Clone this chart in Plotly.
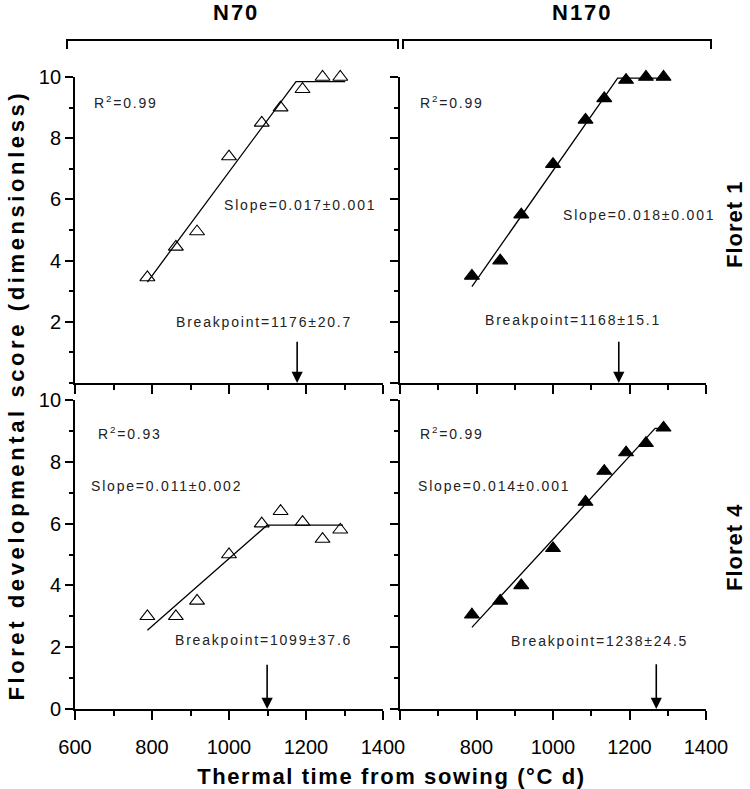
import json
import plotly.graph_objects as go

# ---------------- data ----------------
thermal_time = [788, 862, 917, 1000, 1085, 1134, 1191, 1243, 1289]

n70_floret1 = [3.45, 4.45, 4.95, 7.4, 8.5, 9.0, 9.6, 10.0, 10.0]
n170_floret1 = [3.5, 4.0, 5.5, 7.15, 8.6, 9.3, 9.9, 10.0, 10.0]
n70_floret4 = [3.0, 3.0, 3.5, 5.0, 6.0, 6.4, 6.05, 5.5, 5.8]
n170_floret4 = [3.05, 3.5, 4.0, 5.2, 6.7, 7.7, 8.3, 8.6, 9.1]

# fitted broken-stick lines: start, breakpoint, end
fit_n70_f1_x = [788, 1174, 1302]
fit_n70_f1_y = [3.3, 9.85, 9.85]
fit_n170_f1_x = [788, 1169, 1305]
fit_n170_f1_y = [3.15, 9.96, 9.96]
fit_n70_f4_x = [788, 1099, 1296]
fit_n70_f4_y = [2.55, 5.95, 5.95]
fit_n170_f4_x = [788, 1267, 1297]
fit_n170_f4_y = [2.64, 9.08, 9.08]

arrow_x = [1177, 1172, 1099, 1270]

r2_text = ["R<sup>2</sup>=0.99", "R<sup>2</sup>=0.99", "R<sup>2</sup>=0.93", "R<sup>2</sup>=0.99"]
slope_text = ["Slope=0.017±0.001", "Slope=0.018±0.001", "Slope=0.011±0.002", "Slope=0.014±0.001"]
bp_text = ["Breakpoint=1176±20.7", "Breakpoint=1168±15.1", "Breakpoint=1099±37.6", "Breakpoint=1238±24.5"]

column_labels = ["N70", "N170"]
row_labels = ["Floret 1", "Floret 4"]
x_ticks = [600, 800, 1000, 1200, 1400]
y_ticks = [0, 2, 4, 6, 8, 10]

# ---------------- figure ----------------
W, H = 750, 789
fig = go.Figure()

panels = [
    ("x", "y", n70_floret1, fit_n70_f1_x, fit_n70_f1_y, "triangle-up-open"),
    ("x2", "y2", n170_floret1, fit_n170_f1_x, fit_n170_f1_y, "triangle-up"),
    ("x3", "y3", n70_floret4, fit_n70_f4_x, fit_n70_f4_y, "triangle-up-open"),
    ("x4", "y4", n170_floret4, fit_n170_f4_x, fit_n170_f4_y, "triangle-up"),
]

for xa, ya, vals, fx, fy, sym in panels:
    fig.add_trace(go.Scatter(x=fx, y=fy, xaxis=xa, yaxis=ya, mode="lines",
                             line=dict(color="black", width=1.3), showlegend=False,
                             hoverinfo="skip"))
    fig.add_trace(go.Scatter(x=thermal_time, y=vals, xaxis=xa, yaxis=ya, mode="markers",
                             marker=dict(symbol=sym, size=13, color="black",
                                         line=dict(color="black", width=1.1)),
                             showlegend=False, cliponaxis=False))

def px_x(p):
    return p / W

def px_y(p):
    return 1 - p / H

xdom_left = [px_x(75), px_x(383)]
xdom_right = [px_x(400), px_x(706)]
ydom_top = [px_y(383), px_y(77)]
ydom_bot = [px_y(709), px_y(400)]

tick_font = dict(family="Liberation Sans, Arial, sans-serif", size=20, color="black")

def xaxis(domain, anchor, labels, first_label=True):
    ticktext = [str(v) for v in x_ticks]
    if not first_label:
        ticktext[0] = ""
    return dict(domain=domain, anchor=anchor, range=[600, 1400], showgrid=False,
                zeroline=False, showline=True, linecolor="black", linewidth=1.8,
                automargin=False,
                ticks="outside", ticklen=9, tickwidth=1.6, tickcolor="black",
                tickvals=x_ticks, ticktext=ticktext, showticklabels=labels,
                ticklabelstandoff=10, tickfont=tick_font,
                minor=dict(ticks="outside", ticklen=5, tickwidth=1.6, tickcolor="black",
                           dtick=100, tick0=600, showgrid=False))

def yaxis(domain, anchor, labels, vals):
    return dict(domain=domain, anchor=anchor, range=[0, 10], showgrid=False,
                zeroline=False, showline=True, linecolor="black", linewidth=1.8,
                automargin=False,
                ticks="outside", ticklen=8, tickwidth=1.6, tickcolor="black",
                tickvals=vals, showticklabels=labels, tickfont=tick_font,
                minor=dict(ticks="outside", ticklen=4, tickwidth=1.6, tickcolor="black",
                           dtick=1, tick0=0, showgrid=False))

fig.update_layout(
    width=W, height=H, margin=dict(l=0, r=0, t=0, b=0, autoexpand=False),
    plot_bgcolor="white", paper_bgcolor="white",
    xaxis=xaxis(xdom_left, "y", False),
    xaxis2=xaxis(xdom_right, "y2", False),
    xaxis3=xaxis(xdom_left, "y3", True),
    xaxis4=xaxis(xdom_right, "y4", True, first_label=False),
    yaxis=yaxis(ydom_top, "x", True, y_ticks[1:]),
    yaxis2=yaxis(ydom_top, "x2", False, y_ticks),
    yaxis3=yaxis(ydom_bot, "x3", True, y_ticks),
    yaxis4=yaxis(ydom_bot, "x4", False, y_ticks),
)

ann_font = dict(family="Liberation Sans, Arial, sans-serif", size=14, color="#222")
r2_pos = [(644, 9.19), (646, 9.17), (654, 8.92), (646, 8.92)]
slope_pos = [(982, 5.82), (1020, 5.49), (636, 7.22), (641, 7.22)]
bp_pos = [(858, 2.0), (816, 2.06), (854, 2.23), (886, 2.21)]
arrow_top = [1.4, 1.4, 1.48, 1.5]
refs = [("x", "y"), ("x2", "y2"), ("x3", "y3"), ("x4", "y4")]

annotations = []
spacing = []
for i, (xr, yr) in enumerate(refs):
    for txt, (ax_, ay_) in ((r2_text[i], r2_pos[i]), (slope_text[i], slope_pos[i]),
                            (bp_text[i], bp_pos[i])):
        annotations.append(dict(x=ax_, y=ay_, xref=xr, yref=yr, text=txt, showarrow=False,
                                xanchor="left", yanchor="middle", align="left",
                                font=ann_font))
        spacing.append(1.8)
    annotations.append(dict(x=arrow_x[i], y=0, xref=xr, yref=yr, ax=arrow_x[i],
                            ay=arrow_top[i], axref=xr, ayref=yr, text="", showarrow=True,
                            arrowhead=2, arrowsize=1.4, arrowwidth=1.6, arrowcolor="black",
                            standoff=0))
    spacing.append(0)

title_font = dict(family="Liberation Sans, Arial, sans-serif", size=22, color="black")

def label(x, y, text, angle=0):
    return dict(x=px_x(x), y=px_y(y), xref="paper", yref="paper", text="<b>%s</b>" % text,
                showarrow=False, textangle=angle, xanchor="center", yanchor="middle",
                font=title_font)

annotations += [
    label(236, 13, column_labels[0]),
    label(582, 13, column_labels[1]),
    label(734, 225, row_labels[0], -90),
    label(734, 547, row_labels[1], -90),
    label(16, 395, "Floret developmental score (dimensionless)", -90),
    label(391, 776, "Thermal time from sowing (°C d)"),
]
spacing += [2, 2, 1, 1, 3.6, 1.6]
fig.update_layout(annotations=annotations)

# brackets above the columns and small axis-line extensions
shapes = []
for x0, x1 in ((67, 398), (403, 711)):
    shapes.append(dict(type="path", xref="paper", yref="paper",
                       path="M %f,%f L %f,%f L %f,%f L %f,%f" % (
                           px_x(x0), px_y(49), px_x(x0), px_y(40),
                           px_x(x1), px_y(40), px_x(x1), px_y(49)),
                       line=dict(color="black", width=2)))
for yy in (383, 709):
    shapes.append(dict(type="line", xref="paper", yref="paper", x0=px_x(391), x1=px_x(400),
                       y0=px_y(yy), y1=px_y(yy), line=dict(color="black", width=1.8)))
fig.update_layout(shapes=shapes)

post = (
    "document.body.style.margin='0';document.body.style.overflow='hidden';"
    "var sp=" + json.dumps(spacing) + ";"
    "document.querySelectorAll('g.annotation').forEach(g=>"
    "g.querySelectorAll('text.annotation-text').forEach(t=>"
    "t.style.letterSpacing=(sp[+g.getAttribute('data-index')]||0)+'px'));"
)

fig.write_html("out.html", config=dict(displayModeBar=False), post_script=post)
